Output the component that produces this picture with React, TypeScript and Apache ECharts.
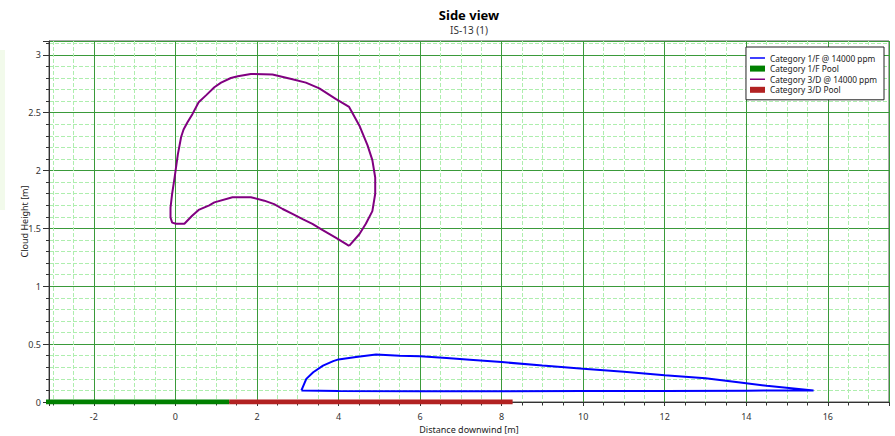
import React, { useEffect, useRef } from "react";
import * as echarts from "echarts";

const titleText = "Side view";
const subtitleText = "IS-13 (1)";
const xAxisName = "Distance downwind [m]";
const yAxisName = "Cloud Height [m]";

const seriesNames = [
  "Category 1/F @ 14000 ppm",
  "Category 1/F Pool",
  "Category 3/D @ 14000 ppm",
  "Category 3/D Pool",
];

// Category 1/F cloud outline (closed)
const cat1fX = [3.09, 3.21, 3.38, 3.62, 3.87, 4.0, 4.43, 4.92, 5.5, 6.0, 6.65, 7.22, 8.0, 9.0, 10.0, 11.0, 12.0, 13.0, 13.8, 14.5, 15.65, 14.0, 12.0, 10.0, 8.0, 6.0, 4.0, 3.09];
const cat1fY = [0.1, 0.2, 0.257, 0.315, 0.353, 0.368, 0.388, 0.41, 0.4, 0.396, 0.38, 0.366, 0.345, 0.315, 0.288, 0.262, 0.232, 0.205, 0.17, 0.14, 0.1, 0.098, 0.095, 0.094, 0.093, 0.093, 0.094, 0.1];

// Category 3/D cloud outline (closed)
const cat3dX = [4.26, 3.93, 3.57, 3.36, 3.12, 2.87, 2.63, 2.42, 2.18, 1.85, 1.4, 0.955, 0.83, 0.57, 0.41, 0.22, 0.016, -0.08, -0.12, -0.12, -0.08, -0.02, 0.06, 0.14, 0.2, 0.3, 0.42, 0.57, 0.75, 0.955, 1.12, 1.36, 1.53, 1.85, 2.38, 2.87, 3.2, 3.53, 3.93, 4.26, 4.51, 4.71, 4.83, 4.9, 4.9, 4.83, 4.67, 4.51, 4.26];
const cat3dY = [1.35, 1.42, 1.495, 1.54, 1.58, 1.625, 1.668, 1.71, 1.74, 1.77, 1.77, 1.725, 1.7, 1.66, 1.61, 1.54, 1.54, 1.55, 1.595, 1.68, 1.8, 1.94, 2.14, 2.29, 2.355, 2.42, 2.49, 2.59, 2.65, 2.72, 2.76, 2.8, 2.815, 2.835, 2.83, 2.79, 2.76, 2.71, 2.62, 2.55, 2.39, 2.22, 2.09, 1.94, 1.8, 1.65, 1.54, 1.45, 1.35];

// Pools (extent along x at ground level)
const pool1fX = [-3.6, 1.32];
const pool3dX = [1.32, 8.27];
const poolY = [0, 0];

const xMin = -3.1;
const xMax = 17.5;
const yMin = 0;
const yMax = 3.12;
const yInterval = 0.5;

const FONT = "'Noto Sans', 'Open Sans', sans-serif";

const zip = (xs: number[], ys: number[]) => xs.map((x, i) => [x, ys[i]]);

const lineIcon = "path://M0,0L15,0L15,0.01Z M0,2.2L15,2.2L15,3.8L0,3.8Z M0,6L15,6L15,5.99Z";

export default function App() {
  const ref = useRef<HTMLDivElement>(null);
  useEffect(() => {
    document.body.style.margin = "0";
    const chart = echarts.init(ref.current!, undefined, { renderer: "svg" });
    const majorGrid = "#3a9a3a";
    const minorGrid = "#aeeeae";
    const axisColor = "#333";
    chart.setOption({
      animation: false,
      backgroundColor: "#fff",
      textStyle: { fontFamily: FONT },
      graphic: [
        { type: "rect", shape: { x: 0, y: 50, width: 5, height: 160 }, style: { fill: "#f2faeb" }, silent: true },
        {
          type: "text",
          x: 469,
          y: 15,
          style: { text: titleText, fontSize: 13, fontWeight: "bold", fill: "#000", fontFamily: FONT, align: "center", verticalAlign: "middle" },
        },
        {
          type: "text",
          x: 469,
          y: 30,
          style: { text: subtitleText, fontSize: 10, fill: "#333", fontFamily: FONT, align: "center", verticalAlign: "middle" },
        },
      ],
      grid: {
        left: 49,
        right: 6,
        top: 41,
        bottom: 34,
        show: true,
        borderColor: "#555",
        borderWidth: 1,
        outerBoundsMode: "none",
        containLabel: false,
      },
      legend: {
        orient: "vertical",
        right: 11,
        top: 47,
        padding: [7, 7, 6, 4],
        itemWidth: 15,
        itemHeight: 6,
        itemGap: 2.6,
        borderColor: "#222",
        borderWidth: 1,
        backgroundColor: "#fff",
        textStyle: { fontSize: 8.3, color: "#222", fontFamily: FONT },
        data: [
          { name: seriesNames[0], icon: lineIcon },
          { name: seriesNames[1], icon: "rect" },
          { name: seriesNames[2], icon: lineIcon },
          { name: seriesNames[3], icon: "rect" },
        ],
      },
      xAxis: {
        type: "value",
        min: xMin,
        max: xMax,
        splitNumber: 10,
        name: xAxisName,
        nameLocation: "middle",
        nameGap: 22.5,
        nameMoveOverlap: false,
        nameTextStyle: { fontSize: 9, color: "#222", fontFamily: FONT },
        axisLine: { show: true, onZero: false, lineStyle: { color: axisColor, width: 1 } },
        axisTick: { show: true, length: 4, lineStyle: { color: axisColor } },
        minorTick: { show: true, splitNumber: 4, length: 3.5, lineStyle: { color: axisColor } },
        axisLabel: { fontSize: 9, color: "#333", margin: 10, showMinLabel: false, showMaxLabel: false, fontFamily: FONT },
        splitLine: { show: true, lineStyle: { color: majorGrid, width: 1 } },
        minorSplitLine: { show: true, lineStyle: { color: minorGrid, width: 1, type: [4, 2] } },
      },
      yAxis: {
        type: "value",
        min: yMin,
        max: yMax,
        interval: yInterval,
        name: yAxisName,
        nameLocation: "middle",
        nameGap: 20.5,
        nameMoveOverlap: false,
        nameTextStyle: { fontSize: 9, color: "#222", fontFamily: FONT },
        axisLine: { show: true, onZero: false, lineStyle: { color: axisColor, width: 1 } },
        axisTick: { show: true, length: 6, lineStyle: { color: axisColor } },
        minorTick: { show: true, splitNumber: 5, length: 3, lineStyle: { color: axisColor } },
        axisLabel: { fontSize: 9, color: "#333", margin: 8, showMaxLabel: false, fontFamily: FONT },
        splitLine: { show: true, lineStyle: { color: majorGrid, width: 1 } },
        minorSplitLine: { show: true, lineStyle: { color: minorGrid, width: 1, type: [4, 2] } },
      },
      series: [
        {
          name: seriesNames[0],
          type: "line",
          data: zip(cat1fX, cat1fY),
          symbol: "none",
          color: "#0000ff",
          lineStyle: { color: "#0000ff", width: 2 },
          z: 3,
        },
        {
          name: seriesNames[1],
          type: "line",
          data: zip(pool1fX, poolY),
          symbol: "none",
          color: "#008000",
          lineStyle: { color: "#008000", width: 5 },
          z: 2,
        },
        {
          name: seriesNames[2],
          type: "line",
          data: zip(cat3dX, cat3dY),
          symbol: "none",
          color: "#800080",
          lineStyle: { color: "#800080", width: 2 },
          z: 3,
        },
        {
          name: seriesNames[3],
          type: "line",
          data: zip(pool3dX, poolY),
          symbol: "none",
          color: "#b22222",
          lineStyle: { color: "#b22222", width: 5 },
          z: 2,
        },
      ],
    });
    return () => chart.dispose();
  }, []);
  return <div ref={ref} style={{ position: "fixed", left: 0, top: 0, width: 895, height: 436 }} />;
}
